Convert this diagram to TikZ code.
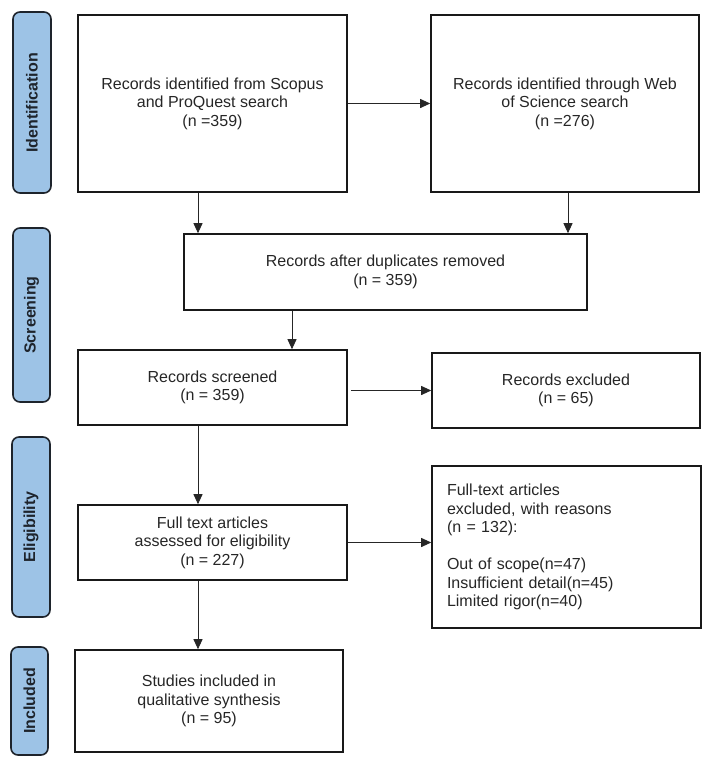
\documentclass[tikz,border=0pt]{standalone}
\usepackage{fontspec}
\setmainfont{Liberation Sans}
\usetikzlibrary{arrows.meta}
\definecolor{barblue}{RGB}{157,195,230}
\definecolor{bardraw}{RGB}{30,36,44}
\definecolor{boxdraw}{RGB}{25,25,25}
\tikzset{
  box/.style={draw=boxdraw, line width=1.6pt, rectangle, inner sep=0pt, align=center,
    font=\fontsize{16}{18.5}\selectfont, text=black!85},
  bar/.style={draw=bardraw, fill=barblue, line width=1.6pt, rounded corners=7pt},
  barlabel/.style={rotate=90, font=\fontsize{16}{18}\selectfont\bfseries, text=bardraw},
  arr/.style={draw=black!85, line width=0.9pt, -{Triangle[length=10pt,width=9pt]}}
}
\begin{document}
\begin{tikzpicture}[x=1pt,y=-1pt]
\useasboundingbox (0,0) rectangle (708,763);
% phase bars
\draw[bar] (13,12) rectangle (51,193);
\node[barlabel] (lid) at (32,103) {Identification};
\draw[bar] (13,228) rectangle (50,402);
\node[barlabel] (lsc) at (31.5,315) {Screening};
\draw[bar] (12,437) rectangle (50,617);
\node[barlabel] (lel) at (31,527) {Eligibility};
\draw[bar] (11,647) rectangle (48,755);
\node[barlabel] (lin) at (29.5,701) {Included};
% boxes
\node[box, minimum width=269pt, minimum height=177pt] (b1) at (212.5,103.5)
  {Records identified from Scopus\\and ProQuest search\\(n =359)};
\node[box, minimum width=268pt, minimum height=177pt] (b2) at (565,103.5)
  {Records identified through Web\\of Science search\\(n =276)};
\node[box, minimum width=403pt, minimum height=76pt] (dup) at (385.5,272)
  {Records after duplicates removed\\(n = 359)};
\node[box, minimum width=269pt, minimum height=75pt] (scr) at (212.5,387.5)
  {Records screened\\(n = 359)};
\node[box, minimum width=268pt, minimum height=75pt] (exc) at (566,390.5)
  {Records excluded\\(n = 65)};
\node[box, minimum width=269pt, minimum height=75pt] (ft) at (212.5,542.5)
  {Full text articles\\assessed for eligibility\\(n = 227)};
\node[box, minimum width=269pt, minimum height=162pt, align=left, text width=239pt] (ex2) at (566.5,547)
  {Full-text articles\\excluded, with reasons\\(n = 132):\\[18.5pt]Out of scope(n=47)\\Insufficient detail(n=45)\\Limited rigor(n=40)};
\node[box, minimum width=268pt, minimum height=102pt] (inc) at (209,701)
  {Studies included in\\qualitative synthesis\\(n = 95)};
% connectors
\coordinate (xl) at (198,0);
\coordinate (xr) at (568,0);
\coordinate (xm) at (292,0);
\draw[arr] (b1.east) -- (b2.west);
\draw[arr] (b1.south -| xl) -- (dup.north -| xl);
\draw[arr] (b2.south -| xr) -- (dup.north -| xr);
\draw[arr] (dup.south -| xm) -- (scr.north -| xm);
\draw[arr] ([xshift=3pt]scr.east |- exc.west) -- (exc.west);
\draw[arr] (scr.south -| xl) -- (ft.north -| xl);
\draw[arr] (ft.east) -- (ft.east -| ex2.west);
\draw[arr] (ft.south -| xl) -- (inc.north -| xl);
\end{tikzpicture}
\end{document}
